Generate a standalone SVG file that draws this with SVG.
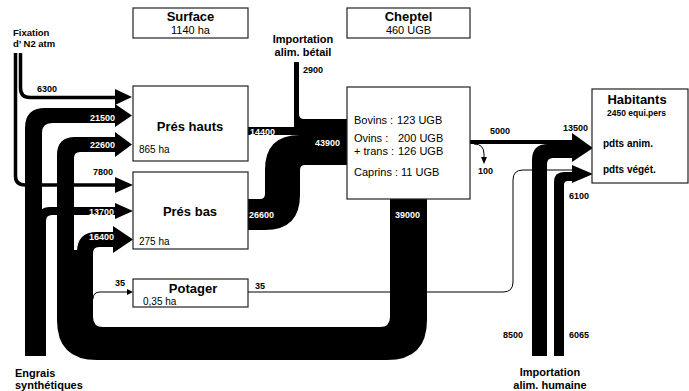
<svg xmlns="http://www.w3.org/2000/svg" width="689" height="391" viewBox="0 0 689 391">
<style>
.box{fill:#fff;stroke:#222;stroke-width:1.2}
.thin{fill:none;stroke:#000;stroke-width:1}
.fx{fill:none;stroke:#000;stroke-width:3.5}
text{font-family:"Liberation Sans",Arial,sans-serif;fill:#000}
.n{font-size:9px;font-weight:bold}
.w{font-size:9px;font-weight:bold;fill:#fff}
.t{font-size:13px;font-weight:bold}
.s{font-size:11px}
.r{font-size:10px}
.lb{font-size:11px;font-weight:bold}
.c{text-anchor:middle}
</style>
<rect width="689" height="391" fill="#fff"/>
<g id="connectors">
<path class="thin" d="M248 292 H503 Q513 292 513 282 V180 Q513 170 523 170 H574"/>
<path class="thin" d="M93 299 Q93 292 100 292 H128"/>
<polygon points="127,289 133,292 127,295"/>
<path class="thin" d="M474 144 Q484 144 484 154 V158"/>
<polygon points="481,157 487,157 484,164"/>
<path class="fx" d="M20.5 53 V88 Q20.5 97.5 30 97.5 H116"/>
<polygon points="115,89 132,97 115,105"/>
<path class="fx" d="M15.5 53 V176 Q15.5 185 25 185 H116"/>
<polygon points="115,177 133,185 115,193"/>
<path d="M25 356 V128 Q25 108 45 108 H115 V104 L132 115.5 L115 127 V123 H52 Q42 123 42 133 V356 Z"/>
<rect x="25" y="215" width="21" height="141"/>
<path d="M38 226 V219 Q38 207 50 207 H115 V203 L133 211 L115 219 V215 H52 Q46 215 46 221 V226 Z"/>
<path d="M390 199 H427 V320 Q427 360 387 360 H97 Q57 360 57 320 V250 H93 V317 Q93 327 103 327 H380 Q390 327 390 317 Z"/>
<path d="M57 252 V155 Q57 137 75 137 H115 V132 L132 144.5 L115 157 V152 H80 Q74 152 74 158 V252 Z"/>
<path d="M77 252 Q77 232 97 232 H113 V226 L133 239.5 L113 253 V247 H99 Q93 247 93 253 Z"/>
<rect x="248" y="127" width="99" height="8"/>
<path d="M294 62 H299 V114 Q299 119 304 119 H347 V128 H294 Z"/>
<path d="M248 199 H260 Q265 199 265 194 V170 Q265 135 300 135 H347 V165 H305 Q300 165 300 170 V195 Q300 230 265 230 H248 Z"/>
<rect x="470" y="140" width="104" height="4"/>
<path d="M532 356 V160 Q532 144 548 144 H574 V158 H553 Q547 158 547 164 V356 Z"/>
<polygon points="572,133 593,148 572,162"/>
<path d="M554 356 V182 Q554 172 564 172 H574 V181 H568 Q564 181 564 185 V356 Z"/>
<polygon points="572,165 593,174 572,183"/>
</g>
<g id="flow-labels">
<text class="n" x="37" y="92">6300</text>
<text class="w" x="90" y="121">21500</text>
<text class="w" x="90" y="148">22600</text>
<text class="n" x="93" y="175">7800</text>
<text class="w" x="89" y="215">13700</text>
<text class="w" x="89" y="240">16400</text>
<text class="w" x="250" y="135">14400</text>
<text class="w" x="315" y="146">43900</text>
<text class="w" x="249" y="218">26600</text>
<text class="n" x="303" y="73">2900</text>
<text class="n" x="490" y="134">5000</text>
<text class="n" x="563" y="131">13500</text>
<text class="n" x="478" y="174">100</text>
<text class="n" x="569" y="199">6100</text>
<text class="w" x="395" y="218">39000</text>
<text class="n" x="503" y="338">8500</text>
<text class="n" x="569" y="338">6065</text>
<text class="n" x="115" y="286">35</text>
<text class="n" x="255" y="289">35</text>
</g>
<g id="fixation">
<text class="n" style="font-size:9.5px" x="13" y="36">Fixation</text>
<text class="n" style="font-size:9.5px" x="13" y="47">d’ N2 atm</text>
</g>
<g id="import-betail">
<text class="lb c" x="303" y="43">Importation</text>
<text class="lb c" x="303" y="56">alim. bétail</text>
</g>
<g id="engrais">
<text class="lb" x="15" y="377">Engrais</text>
<text class="lb" x="15" y="389">synthétiques</text>
</g>
<g id="import-humaine">
<text class="lb c" x="550" y="376">Importation</text>
<text class="lb c" x="550" y="389">alim. humaine</text>
</g>
<g id="surface">
<rect class="box" x="133" y="8" width="115" height="30"/>
<text class="t c" x="190.5" y="21">Surface</text>
<text class="s c" x="190.5" y="34">1140 ha</text>
</g>
<g id="cheptel-header">
<rect class="box" x="347" y="8" width="123" height="30"/>
<text class="t c" x="408.5" y="21">Cheptel</text>
<text class="s c" x="408.5" y="34">460 UGB</text>
</g>
<g id="pres-hauts">
<rect class="box" x="133" y="86" width="115" height="75"/>
<text class="t c" x="190" y="131">Prés hauts</text>
<text class="r" x="139" y="153">865 ha</text>
</g>
<g id="pres-bas">
<rect class="box" x="133" y="172" width="115" height="77"/>
<text class="t c" x="190" y="216">Prés bas</text>
<text class="r" x="139" y="245">275 ha</text>
</g>
<g id="potager">
<rect class="box" x="133" y="279" width="115" height="28"/>
<text class="t c" x="193" y="293">Potager</text>
<text class="r" x="143" y="305">0,35 ha</text>
</g>
<g id="cheptel">
<rect class="box" x="347" y="87" width="123" height="112"/>
<text class="s" x="354" y="124">Bovins :</text><text class="s" x="397" y="124">123 UGB</text>
<text class="s" x="354" y="142">Ovins :</text><text class="s" x="398" y="142">200 UGB</text>
<text class="s" x="354" y="155">+ trans :</text><text class="s" x="398" y="155">126 UGB</text>
<text class="s" x="354" y="176">Caprins : 11 UGB</text>
</g>
<g id="habitants">
<rect class="box" x="592" y="89" width="96" height="94"/>
<text class="t c" x="637" y="104">Habitants</text>
<text class="n" style="font-size:8.5px" x="607" y="116">2450 equi.pers</text>
<text class="n" style="font-size:10px" x="603" y="147">pdts anim.</text>
<text class="n" style="font-size:10px" x="603" y="173">pdts végét.</text>
</g>
</svg>
